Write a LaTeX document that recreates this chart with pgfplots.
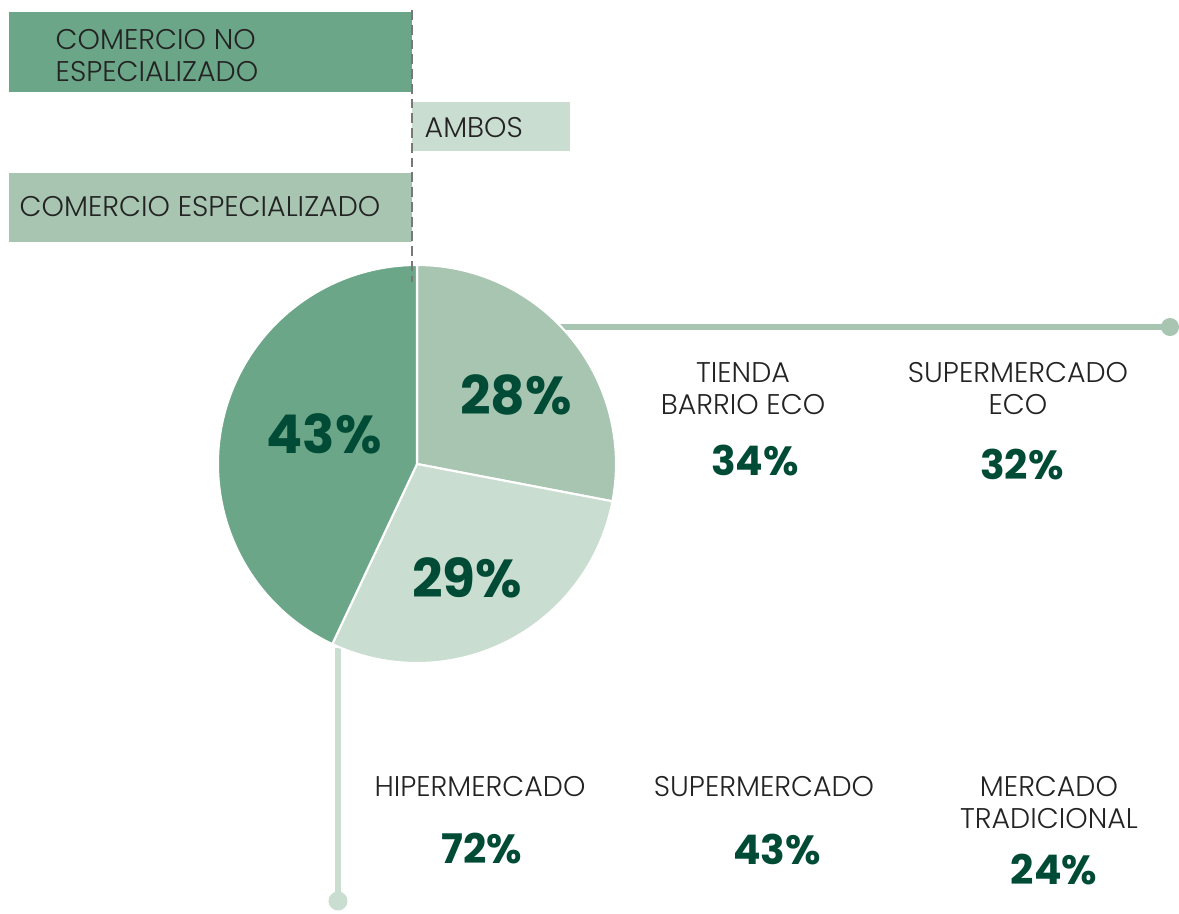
\documentclass[border=0pt]{standalone}
\usepackage{pgfplots}
\pgfplotsset{compat=1.18}
\usepackage{fontspec}
\IfFontExistsTF{Poppins Light}
  {\setmainfont{Poppins}[UprightFont=* Light, BoldFont=* Bold]}
  {\setmainfont{Poppins}}
\definecolor{cdark}{RGB}{107,166,136}
\definecolor{cmid}{RGB}{167,197,177}
\definecolor{clight}{RGB}{201,221,208}
\definecolor{pctgreen}{RGB}{0,75,53}
\definecolor{labgray}{RGB}{35,35,35}
\definecolor{dashgray}{RGB}{120,120,120}

\newcommand{\lab}{\fontsize{8.1}{9.1}\selectfont\color{labgray}}
\newcommand{\bigpct}{\fontsize{15.2}{16}\selectfont\bfseries\color{pctgreen}}
\newcommand{\smallpct}{\fontsize{11.6}{12}\selectfont\bfseries\color{pctgreen}}

\begin{document}
\begin{tikzpicture}
% pie shares, clockwise from 12 o'clock
\def\pA{28}\def\pB{29}\def\pC{43}
\pgfmathsetmacro{\aA}{90-3.6*\pA}
\pgfmathsetmacro{\aB}{\aA-3.6*\pB}
\pgfmathsetmacro{\aC}{\aB-3.6*\pC}
\def\R{1.99cm}

\begin{axis}[
  scale only axis,
  width=11.79cm, height=9.13cm,
  xmin=-412, xmax=767, ymin=0, ymax=913,
  hide axis,
  clip=false,
]
\coordinate (ll) at (rel axis cs:0,0);
\coordinate (ur) at (rel axis cs:1,1);

% horizontal bars on top
\addplot[xbar, bar shift=0pt, bar width=80, fill=cdark, draw=none]
  coordinates {(-403,861)};
\addplot[xbar, bar shift=0pt, bar width=49, fill=clight, draw=none]
  coordinates {(158,786.5)};
\addplot[xbar, bar shift=0pt, bar width=69, fill=cmid, draw=none]
  coordinates {(-403,705.5)};

\node[anchor=west, align=left, inner sep=0pt, font=\lab] at (-357,857) {COMERCIO NO\\ESPECIALIZADO};
\node[anchor=west, inner sep=0pt, font=\lab] at (12,785) {AMBOS};
\node[anchor=west, inner sep=0pt, font=\lab] at (-393,706) {COMERCIO ESPECIALIZADO};

% connector lines
\draw[cmid, line width=1.7pt] (148,586) -- (758,586);
\fill[cmid] (758,586) circle[radius=0.09cm];
\draw[clight, line width=1.7pt] (-74,265) -- (-74,12);
\fill[clight] (-74,12) circle[radius=0.095cm];

% pie
\fill[cmid, draw=white, line width=0.6pt] (5,449) -- ++(90:\R) arc[start angle=90, end angle=\aA, radius=\R] -- cycle;
\fill[clight, draw=white, line width=0.6pt] (5,449) -- ++(\aA:\R) arc[start angle=\aA, end angle=\aB, radius=\R] -- cycle;
\fill[cdark, draw=white, line width=0.6pt] (5,449) -- ++(\aB:\R) arc[start angle=\aB, end angle=\aC, radius=\R] -- cycle;

\node[font=\bigpct] at (-88,479) {43\%};
\node[font=\bigpct] at (104,518) {28\%};
\node[font=\bigpct] at (55,335) {29\%};

% dashed divider
\draw[dashgray, line width=0.8pt, dash pattern=on 2.8pt off 1.4pt] (0,903) -- (0,631);

% category labels
\node[align=center, font=\lab] at (331,524) {TIENDA\\BARRIO ECO};
\node[font=\smallpct] at (343,453) {34\%};
\node[align=center, font=\lab] at (606,524) {SUPERMERCADO\\ECO};
\node[font=\smallpct] at (610,449) {32\%};

\node[font=\lab] at (68,126) {HIPERMERCADO};
\node[font=\smallpct] at (70,64) {72\%};
\node[font=\lab] at (352,126) {SUPERMERCADO};
\node[font=\smallpct] at (365,64) {43\%};
\node[align=center, font=\lab] at (637,110) {MERCADO\\TRADICIONAL};
\node[font=\smallpct] at (642,43) {24\%};
\end{axis}
\pgfresetboundingbox
\path[use as bounding box] (ll) rectangle (ur);
\end{tikzpicture}
\end{document}
